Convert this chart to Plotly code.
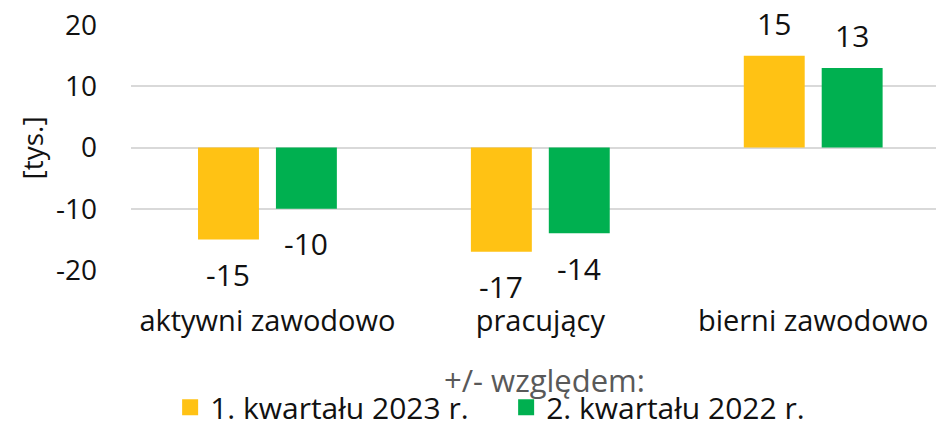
import plotly.graph_objects as go

# Dane
KATEGORIE = ["aktywni zawodowo", "pracujący", "bierni zawodowo"]
SERIE = ["1. kwartału 2023 r.", "2. kwartału 2022 r."]
WART_2023Q1 = [-15, -17, 15]
WART_2022Q2 = [-10, -14, 13]
Y_TICKS = [-20, -10, 0, 10, 20]
Y_TICKTEXT = ["-20", "-10", "0", "10", "20"]

KOLORY = ["#FFC214", "#00B050"]
FONT = "Open Sans"

fig = go.Figure()

for i, (nazwa, wart) in enumerate(zip(SERIE, [WART_2023Q1, WART_2022Q2])):
    fig.add_trace(go.Bar(
        x=KATEGORIE, y=wart, name=nazwa,
        marker=dict(color=KOLORY[i], line_width=0),
        offsetgroup=str(i),
        showlegend=False,
        hovertemplate="%{x}<br>%{y} tys.<extra>" + nazwa + "</extra>",
    ))
    # atrapa do legendy (większy kwadrat niż domyślna ikona słupka)
    fig.add_trace(go.Scatter(
        x=[None], y=[None], name=nazwa, mode="markers",
        marker=dict(symbol="square", size=20, color=KOLORY[i]),
    ))
    # etykiety danych – poza końcem słupka
    shift_x = -39 if i == 0 else 39
    for kat, v in zip(KATEGORIE, wart):
        fig.add_annotation(
            x=kat, y=v, xref="x", yref="y",
            text=str(v), showarrow=False,
            xshift=shift_x, yshift=32 if v > 0 else -35,
            font=dict(size=30, color="#111111", family=FONT),
            bgcolor="white",
        )

fig.add_annotation(
    x=0.514, y=-0.45, xref="paper", yref="paper",
    text="+/- względem:", showarrow=False,
    font=dict(size=31, color="#595959", family=FONT),
    yanchor="middle",
)
fig.add_annotation(
    x=-0.1230, y=0.5, xref="paper", yref="paper",
    text="[tys.]", showarrow=False, textangle=-90,
    font=dict(size=28, color="#111111", family=FONT),
    xanchor="center", yanchor="middle",
)

fig.update_layout(
    width=936, height=423,
    margin=dict(l=131, r=0, t=25, b=153),
    plot_bgcolor="white", paper_bgcolor="white",
    font=dict(family=FONT, size=28, color="#111111"),
    barmode="group",
    bargap=0.429, bargroupgap=0.218,
    showlegend=True,
    legend=dict(
        orientation="h",
        x=0.466, xanchor="center",
        yref="container", y=0.037, yanchor="middle",
        font=dict(size=30, family=FONT, color="#111111"),
        itemwidth=30,
        entrywidth=291,
        tracegroupgap=0,
        bgcolor="rgba(0,0,0,0)",
    ),
)

fig.update_xaxes(
    range=[-0.5, 2.45], automargin=False,
    showgrid=False, zeroline=False, showline=False,
    ticks="", ticklabelstandoff=31,
    tickfont=dict(size=29),
)
fig.update_yaxes(
    range=[-20, 20], tickvals=Y_TICKS, ticktext=Y_TICKTEXT, automargin=False,
    showgrid=True, gridcolor="#D9D9D9", gridwidth=1.5,
    zeroline=True, zerolinecolor="#D9D9D9", zerolinewidth=1.5,
    showline=False, ticks="", ticklabelstandoff=33,
    tickfont=dict(size=28),
)

# bez domyślnego marginesu strony, żeby wykres zaczynał się w (0, 0)
fig.write_html(
    "out.html",
    config={"displayModeBar": False},
    post_script="document.body.style.margin='0';",
)
